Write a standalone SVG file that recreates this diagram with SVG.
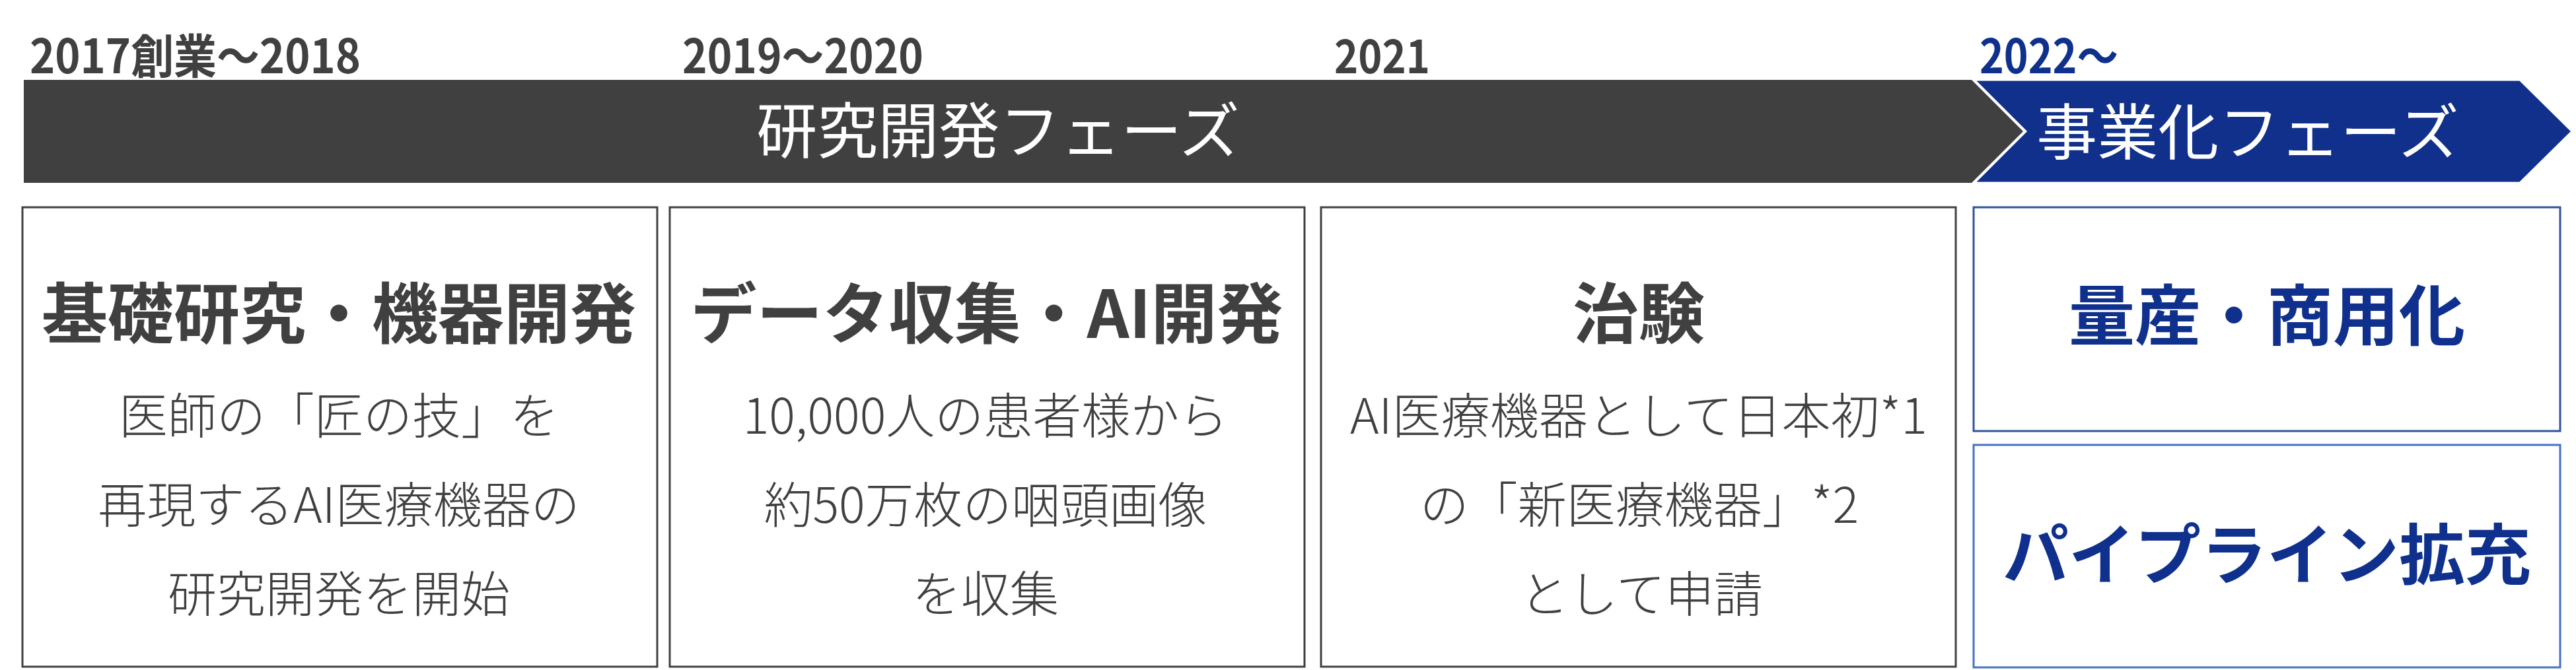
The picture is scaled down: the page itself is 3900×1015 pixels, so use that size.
<svg xmlns="http://www.w3.org/2000/svg" width="3900" height="1015" viewBox="0 0 3900 1015">
<style>
text{font-family:"Noto Sans CJK JP","Noto Sans",sans-serif}
.yr{font-size:71px;font-weight:700;fill:#404040}
.yrb{font-size:71px;font-weight:700;fill:#0F318D}
.phase{font-size:92px;font-weight:400;fill:#ffffff;text-anchor:middle}
.ttl{font-size:100px;font-weight:700;fill:#404040;text-anchor:middle}
.ttlb{font-size:100px;font-weight:700;fill:#0F318D;text-anchor:middle}
.body{font-size:74px;font-weight:300;fill:#404040;text-anchor:middle}
.gbox{fill:#ffffff;stroke:#404040;stroke-width:3}
.bbox1{fill:#ffffff;stroke:#2F5597;stroke-width:3}
.bbox2{fill:#ffffff;stroke:#4472C4;stroke-width:3}
</style>
<rect width="3900" height="1015" fill="#ffffff"/>
<g id="years">
<text class="yr" x="45" y="111" textLength="501" lengthAdjust="spacingAndGlyphs">2017創業～2018</text>
<text class="yr" x="1033" y="111" textLength="365" lengthAdjust="spacingAndGlyphs">2019～2020</text>
<text class="yr" x="2020" y="111" textLength="145" lengthAdjust="spacingAndGlyphs">2021</text>
<text class="yrb" x="2997" y="111" textLength="210" lengthAdjust="spacingAndGlyphs">2022～</text>
</g>
<g id="phase-research">
<polygon points="36,121 2985,121 3063,199 2985,277 36,277" fill="#404040"/>
<text class="phase" x="1511" y="232">研究開発フェーズ</text>
</g>
<g id="phase-business">
<polygon points="2989,121 3815,121 3894,199 3815,277 2989,277 3067,199" fill="#10308C" stroke="#ffffff" stroke-width="3" stroke-linejoin="miter"/>
<text class="phase" x="3403" y="234">事業化フェーズ</text>
</g>
<g id="box-basic-research">
<rect class="gbox" x="34" y="314" width="961" height="696"/>
<text class="ttl" x="513" y="512">基礎研究・機器開発</text>
<text class="body" x="513" y="657">医師の「匠の技」を</text>
<text class="body" x="513" y="792">再現するAI医療機器の</text>
<text class="body" x="513" y="927">研究開発を開始</text>
</g>
<g id="box-data">
<rect class="gbox" x="1014" y="314" width="961" height="696"/>
<text class="ttl" x="1494" y="512">データ収集・AI開発</text>
<text class="body" x="1492" y="657">10,000人の患者様から</text>
<text class="body" x="1492" y="792">約50万枚の咽頭画像</text>
<text class="body" x="1492" y="927">を収集</text>
</g>
<g id="box-trial">
<rect class="gbox" x="2000" y="314" width="961" height="696"/>
<text class="ttl" x="2481" y="512">治験</text>
<text class="body" x="2481" y="657">AI医療機器として日本初*1</text>
<text class="body" x="2482" y="792">の「新医療機器」*2</text>
<text class="body" x="2485" y="927">として申請</text>
</g>
<g id="box-mass-production">
<rect class="bbox1" x="2988" y="314" width="888" height="339"/>
<text class="ttlb" x="3432" y="515">量産・商用化</text>
</g>
<g id="box-pipeline">
<rect class="bbox2" x="2988" y="674" width="888" height="337"/>
<text class="ttlb" x="3432" y="877">パイプライン拡充</text>
</g>
<g id="connectors"></g>
</svg>
